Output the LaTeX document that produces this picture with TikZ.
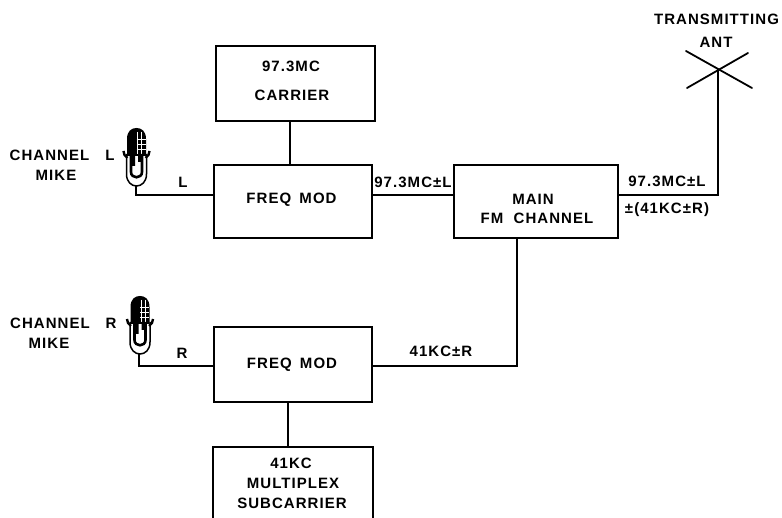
\documentclass[tikz,border=0pt]{standalone}
\usepackage{fontspec}
\setmainfont{Liberation Sans}[LetterSpace=7]
\usetikzlibrary{calc}
\tikzset{
  x=1pt,y=-1pt,
  blockbox/.style={draw=black,line width=2.2pt,inner sep=0pt,outer sep=0pt},
  blocktext/.style={inner sep=0pt,outer sep=0pt,font=\fontsize{15}{20}\selectfont\bfseries},
  wire/.style={draw=black,line width=2.2pt,line join=miter},
  thinwire/.style={draw=black,line width=1.8pt,line cap=round},
  lab/.style={inner sep=0pt,outer sep=0pt,font=\fontsize{15}{19}\selectfont\bfseries,align=center},
}
\begin{document}
\begin{tikzpicture}
\useasboundingbox[fill=white] (0,0) rectangle (782,518);
% blocks
\node[blockbox,minimum width=159pt,minimum height=75pt] (carrier) at (295.5,83.5) {};
\node[blockbox,minimum width=158pt,minimum height=73pt] (fmL) at (293,201.5) {};
\node[blockbox,minimum width=164pt,minimum height=73pt] (main) at (536,201.5) {};
\node[blockbox,minimum width=158pt,minimum height=75pt] (fmR) at (293,364.5) {};
\node[inner sep=0pt,outer sep=0pt,minimum width=160pt,minimum height=71pt] (sub) at (293,482.5) {};
\draw[wire] (sub.south west) |- (sub.north east) -- (sub.south east);
% block texts
\node[blocktext] (ct) at (291,66) {97.3MC};
\node[blocktext] (cb) at (292,95) {CARRIER};
\node[blocktext] (fl) at (291.5,200) {FREQ\hspace{3pt} MOD};
\node[blocktext] (mt) at (533,199) {MAIN};
\node[blocktext] (mb) at (537,218) {FM\hspace{5pt} CHANNEL};
\node[blocktext] (fr) at (292,365) {FREQ\hspace{3pt} MOD};
\node[blocktext] (s1) at (291,463) {41KC};
\node[blocktext] (s2) at (293,483) {MULTIPLEX};
\node[blocktext] (s3) at (292,503) {SUBCARRIER};
% mics: #1 centre x, #2 top y
\newcommand{\micdraw}[2]{%
  \begin{scope}[shift={(#1,#2)}]
    \fill[black] (-9.5,22) -- (-9.5,11) .. controls (-9.5,3) and (-5,0) .. (0,0) .. controls (5,0) and (9.5,3) .. (9.5,11) -- (9.5,28) -- (-9.5,28) -- cycle;
    \draw[white,line width=.5pt] (1,4) -- (1,26) (5,4) -- (5,26) (0,11) -- (9,11) (0,16) -- (9,16) (0,21) -- (9,21);
    \draw[black,line width=1.5pt] (-10,26) -- (-10,46) .. controls (-10,54) and (-5,58) .. (0,58) .. controls (5,58) and (10,54) .. (10,46) -- (10,26);
    \draw[black,line width=2.6pt] (-5.5,28) -- (-5.5,44) .. controls (-5.5,51) and (5.5,51) .. (5.5,44) -- (5.5,28);
    \fill[black] (-5.5,26) rectangle (-1.5,38) (1.5,26) rectangle (5.5,34);
    \draw[black,line width=2.4pt] (-13,23) -- (-12,27) -- (-9,30) (13,23) -- (12,27) -- (9,30);
  \end{scope}}
\micdraw{136.5}{128}
\micdraw{140}{296}
\coordinate (micL) at (136,186);
\coordinate (micR) at (139,354);
% antenna
\coordinate (antc) at (718,69);
\coordinate (a1) at (686,51); \coordinate (a2) at (752,88);
\coordinate (a3) at (687,88); \coordinate (a4) at (748,53);
\draw[thinwire] (a1) -- (a2);
\draw[thinwire] (a3) -- (a4);
% connectors
\draw[wire] (carrier.south -| 290,0) -- (fmL.north -| 290,0);
\draw[wire] (micL) |- (fmL.west |- 0,195);
\draw[wire] (fmL.east |- 0,195) -- (main.west |- 0,195);
\draw[wire] (main.east |- 0,195) -| (antc);
\draw[wire] (micR) |- (fmR.west |- 0,366);
\draw[wire] (fmR.east |- 0,366) -| (main.south -| 517,0);
\draw[wire] (fmR.south -| 288,0) -- (sub.north -| 288,0);
% labels
\node[lab] (t1) at (49.5,155) {CHANNEL};
\node[lab] (t1b) at (110,155) {L};
\node[lab] (t2) at (56,175) {MIKE};
\node[lab] (t3) at (183,182) {L};
\node[lab] (t4) at (50,323) {CHANNEL};
\node[lab] (t4b) at (111,323) {R};
\node[lab] (t5) at (49,343) {MIKE};
\node[lab] (t6) at (182,353) {R};
\node[lab] (t7) at (413,182) {97.3MC±L};
\node[lab] (t8) at (441,351) {41KC±R};
\node[lab] (t9) at (667,181) {97.3MC±L};
\node[lab] (t10) at (667,210) {±(41KC±R)};
\node[lab] (t11) at (716.5,19) {TRANSMITTING};
\node[lab] (t12) at (716,42) {ANT};
\end{tikzpicture}
\end{document}
